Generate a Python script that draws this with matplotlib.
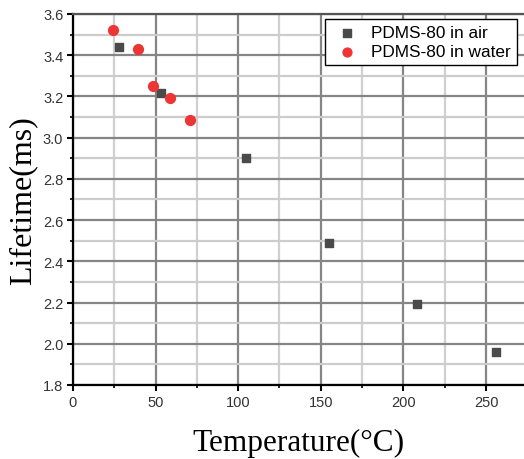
import matplotlib.pyplot as plt
from matplotlib.ticker import MultipleLocator

# data
air_temp = [28, 53, 105, 155, 208, 256]
air_life = [3.44, 3.215, 2.90, 2.487, 2.193, 1.96]
water_temp = [24, 39.5, 48.5, 59, 71]
water_life = [3.52, 3.43, 3.25, 3.192, 3.088]

fig = plt.figure(figsize=(5.24, 4.6), dpi=100)
ax = fig.add_axes([0.1393, 0.1609, 0.8607, 0.8065])

# grid first so markers sit on top
ax.set_axisbelow(True)
ax.grid(which='major', color='#858585', lw=1.6)
ax.grid(which='minor', axis='y', color='#cccccc', lw=1.6)
ax.grid(which='minor', axis='x', color='#d0d0d0', lw=1.6)

ax.scatter(air_temp, air_life, marker='s', s=34, color='#4a4a4a',
           label='PDMS-80 in air', zorder=3)
ax.scatter(water_temp, water_life, marker='o', s=50, color='#ee3535',
           label='PDMS-80 in water', zorder=3)

ax.set_xlim(0, 273)
ax.set_ylim(1.8, 3.6)
ax.xaxis.set_major_locator(MultipleLocator(50))
ax.xaxis.set_minor_locator(MultipleLocator(25))
ax.yaxis.set_major_locator(MultipleLocator(0.2))
ax.yaxis.set_minor_locator(MultipleLocator(0.1))
ax.yaxis.set_major_formatter(plt.FuncFormatter(lambda v, p: f'{v:.1f}'))

for s in ['left', 'bottom']:
    ax.spines[s].set_color('black')
    ax.spines[s].set_linewidth(1.6)
ax.spines['right'].set_visible(False)
ax.spines['top'].set_color('#555555')
ax.spines['top'].set_linewidth(1.6)

ax.tick_params(which='major', direction='out', length=4, width=1.5,
               labelsize=10.5, labelcolor='#333333', pad=3)
ax.tick_params(which='minor', direction='out', length=2.5, width=1.2)
for lab in ax.get_xticklabels() + ax.get_yticklabels():
    lab.set_family('Liberation Sans')

ax.set_xlabel('Temperature(\u00b0C)', family='Liberation Serif', fontsize=22.5, labelpad=14)
ax.set_ylabel('Lifetime(ms)', family='Liberation Serif', fontsize=23, labelpad=4)

leg = ax.legend(loc='upper right', bbox_to_anchor=(0.984, 0.9865), borderaxespad=0,
                fancybox=False, framealpha=1, edgecolor='black', borderpad=0.35,
                handletextpad=0.5, labelspacing=0.25,
                prop={'family': 'Liberation Sans', 'size': 12.4},
                handlelength=1.8, markerscale=0.9)
leg.get_frame().set_linewidth(1.0)

plt.savefig('out.png', dpi=100)
